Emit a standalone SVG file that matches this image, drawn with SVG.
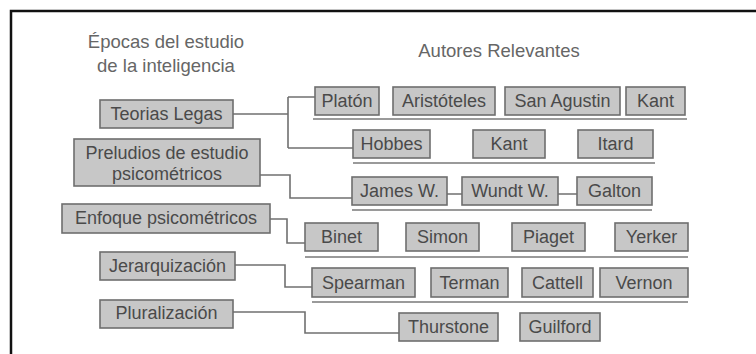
<svg xmlns="http://www.w3.org/2000/svg" width="756" height="354" viewBox="0 0 756 354">
<style>
.bg{fill:#ffffff}
.frame{fill:none;stroke:#111;stroke-width:2.5}
.box{fill:#c7c7c7;stroke:#6e6e6e;stroke-width:1.6}
.t{font-family:"Liberation Sans",Arial,sans-serif;font-size:18px;fill:#4a4a4a;text-anchor:middle}
.h{font-family:"Liberation Sans",Arial,sans-serif;font-size:18.5px;fill:#666;text-anchor:middle}
.con{fill:none;stroke:#707070;stroke-width:1.6}
.ul{stroke:#9a9a9a;stroke-width:2.2}
</style>
<rect class="bg" x="0" y="0" width="756" height="354"/>
<path class="frame" d="M11,354 V11 H756"/>
<g id="headers">
<text class="h" x="166" y="48">Épocas del estudio</text>
<text class="h" x="166" y="72">de la inteligencia</text>
<text class="h" x="499" y="57">Autores Relevantes</text>
</g>
<g id="connectors">
<path class="con" d="M233,114 H288 M288,97 V148 M288,97 H315 M288,148 H353"/>
<path class="con" d="M260,175 H290 V198 H352"/>
<path class="con" d="M270,219 H287 V243 H305"/>
<path class="con" d="M235,265 H285 V287 H312"/>
<path class="con" d="M233,312 H305 V333 H399"/>
<path class="con" d="M447,194 H462 M558,194 H577"/>
<line class="ul" x1="313" y1="119" x2="687" y2="119"/>
<line class="ul" x1="353" y1="163" x2="655" y2="163"/>
<line class="ul" x1="352" y1="210" x2="652" y2="210"/>
<line class="ul" x1="305" y1="257" x2="688" y2="257"/>
<line class="ul" x1="312" y1="302" x2="688" y2="302"/>
</g>
<g id="teorias"><rect class="box" x="100" y="100" width="133" height="28"/><text class="t" x="166.5" y="120">Teorias Legas</text></g>
<g id="preludios"><rect class="box" x="74" y="139" width="186" height="47"/><text class="t" x="167" y="159">Preludios de estudio</text><text class="t" x="167" y="180">psicométricos</text></g>
<g id="enfoque"><rect class="box" x="62" y="204" width="208" height="29"/><text class="t" x="166" y="224">Enfoque psicométricos</text></g>
<g id="jerarquizacion"><rect class="box" x="100" y="252" width="135" height="28"/><text class="t" x="167.5" y="272">Jerarquización</text></g>
<g id="pluralizacion"><rect class="box" x="100" y="300" width="133" height="28"/><text class="t" x="166.5" y="319">Pluralización</text></g>

<g id="platon"><rect class="box" x="315" y="87" width="64" height="28"/><text class="t" x="347" y="107">Platón</text></g>
<g id="aristoteles"><rect class="box" x="393" y="87" width="102" height="28"/><text class="t" x="444" y="107">Aristóteles</text></g>
<g id="sanagustin"><rect class="box" x="505" y="87" width="115" height="28"/><text class="t" x="562.5" y="107">San Agustin</text></g>
<g id="kant1"><rect class="box" x="626" y="87" width="59" height="28"/><text class="t" x="655.5" y="107">Kant</text></g>

<g id="hobbes"><rect class="box" x="353" y="130" width="77" height="28"/><text class="t" x="391.5" y="150">Hobbes</text></g>
<g id="kant2"><rect class="box" x="473" y="130" width="72" height="28"/><text class="t" x="509" y="150">Kant</text></g>
<g id="itard"><rect class="box" x="578" y="130" width="75" height="28"/><text class="t" x="615.5" y="150">Itard</text></g>

<g id="james"><rect class="box" x="352" y="177" width="95" height="28"/><text class="t" x="399.5" y="197">James W.</text></g>
<g id="wundt"><rect class="box" x="462" y="177" width="96" height="28"/><text class="t" x="510" y="197">Wundt W.</text></g>
<g id="galton"><rect class="box" x="577" y="177" width="75" height="28"/><text class="t" x="614.5" y="197">Galton</text></g>

<g id="binet"><rect class="box" x="305" y="223" width="73" height="28"/><text class="t" x="341.5" y="243">Binet</text></g>
<g id="simon"><rect class="box" x="406" y="223" width="73" height="28"/><text class="t" x="442.5" y="243">Simon</text></g>
<g id="piaget"><rect class="box" x="512" y="223" width="73" height="28"/><text class="t" x="548.5" y="243">Piaget</text></g>
<g id="yerker"><rect class="box" x="615" y="223" width="73" height="28"/><text class="t" x="651.5" y="243">Yerker</text></g>

<g id="spearman"><rect class="box" x="312" y="268" width="103" height="29"/><text class="t" x="363.5" y="289">Spearman</text></g>
<g id="terman"><rect class="box" x="431" y="268" width="77" height="29"/><text class="t" x="469.5" y="289">Terman</text></g>
<g id="cattell"><rect class="box" x="522" y="268" width="71" height="29"/><text class="t" x="557.5" y="289">Cattell</text></g>
<g id="vernon"><rect class="box" x="600" y="268" width="88" height="29"/><text class="t" x="644" y="289">Vernon</text></g>

<g id="thurstone"><rect class="box" x="399" y="313" width="99" height="28"/><text class="t" x="448.5" y="333">Thurstone</text></g>
<g id="guilford"><rect class="box" x="520" y="313" width="80" height="28"/><text class="t" x="560" y="333">Guilford</text></g>
</svg>
